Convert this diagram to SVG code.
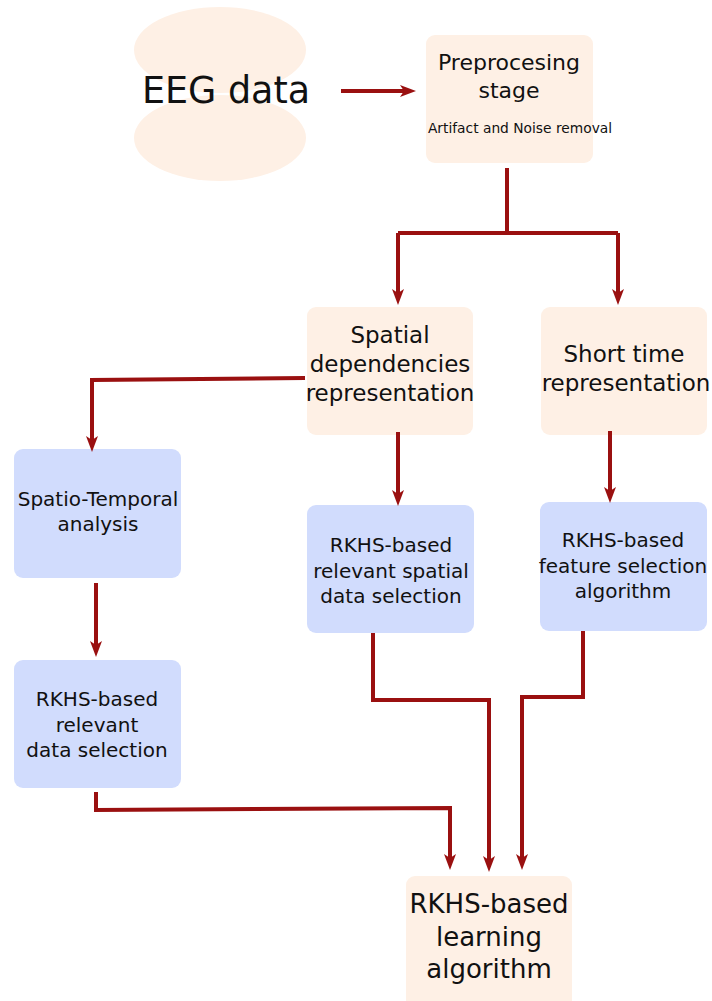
<svg xmlns="http://www.w3.org/2000/svg" width="712" height="1001" viewBox="0 0 712 1001">
  <style>
    text { font-family: "DejaVu Sans", "Liberation Sans", sans-serif; fill: #111; text-anchor: middle; }
    .peach { fill: #fef0e5; }
    .blue { fill: #d1dcfd; }
    .wire { fill: none; stroke: #9a1010; stroke-width: 4; }
    .arrow { marker-end: url(#head); }
    .t20 { font-size: 20px; }
    .t22 { font-size: 22px; }
    .t23 { font-size: 23px; }
    .t26 { font-size: 26px; }
  </style>
  <defs>
    <marker id="head" markerUnits="userSpaceOnUse" markerWidth="17" markerHeight="13" viewBox="0 0 17 13" refX="4" refY="6.5" orient="auto">
      <path d="M0,0.5 L16,6.5 L0,12.5 L4,6.5 Z" fill="#9a1010"/>
    </marker>
  </defs>

  <!-- EEG data source -->
  <g id="eeg-data">
    <ellipse class="peach" cx="220" cy="50" rx="86" ry="43"/>
    <ellipse class="peach" cx="220" cy="138" rx="86" ry="43"/>
    <text x="226" y="103" style="font-size:36.5px">EEG data</text>
  </g>

  <!-- Preprocessing -->
  <g id="preprocessing">
    <rect class="peach" x="426" y="35" width="167" height="128" rx="9"/>
    <text class="t22" x="509" y="70">Preprocesing</text>
    <text class="t22" x="509" y="98">stage</text>
    <text x="520" y="133" style="font-size:13.8px">Artifact and Noise removal</text>
  </g>

  <!-- Spatial dependencies -->
  <g id="spatial">
    <rect class="peach" x="307" y="307" width="166" height="128" rx="9"/>
    <text class="t23" x="390" y="343">Spatial</text>
    <text class="t23" x="390" y="372">dependencies</text>
    <text class="t23" x="390" y="401">representation</text>
  </g>

  <!-- Short time -->
  <g id="short-time">
    <rect class="peach" x="541" y="307" width="166" height="128" rx="9"/>
    <text class="t23" x="624" y="362">Short time</text>
    <text class="t23" x="626" y="391">representation</text>
  </g>

  <!-- Spatio-temporal analysis -->
  <g id="spatio-temporal">
    <rect class="blue" x="14" y="449" width="167" height="129" rx="9"/>
    <text class="t20" x="98" y="506">Spatio-Temporal</text>
    <text class="t20" x="98" y="531">analysis</text>
  </g>

  <!-- RKHS relevant spatial data selection -->
  <g id="rkhs-spatial">
    <rect class="blue" x="307" y="505" width="167" height="128" rx="9"/>
    <text class="t20" x="391" y="552">RKHS-based</text>
    <text class="t20" x="391" y="578">relevant spatial</text>
    <text class="t20" x="391" y="603">data selection</text>
  </g>

  <!-- RKHS feature selection -->
  <g id="rkhs-feature">
    <rect class="blue" x="540" y="502" width="167" height="129" rx="9"/>
    <text class="t20" x="623" y="547">RKHS-based</text>
    <text class="t20" x="623" y="573">feature selection</text>
    <text class="t20" x="623" y="598">algorithm</text>
  </g>

  <!-- RKHS relevant data selection -->
  <g id="rkhs-data">
    <rect class="blue" x="14" y="660" width="167" height="128" rx="9"/>
    <text class="t20" x="97" y="706">RKHS-based</text>
    <text class="t20" x="97" y="732">relevant</text>
    <text class="t20" x="97" y="757">data selection</text>
  </g>

  <!-- RKHS learning -->
  <g id="rkhs-learning">
    <rect class="peach" x="406" y="876" width="166" height="140" rx="9"/>
    <text class="t26" x="489" y="913">RKHS-based</text>
    <text class="t26" x="489" y="946">learning</text>
    <text class="t26" x="489" y="978">algorithm</text>
  </g>

  <!-- Connectors -->
  <g id="connectors">
    <path class="wire arrow" d="M341,91 H404"/>
    <path class="wire" d="M507,168 V233"/>
    <path class="wire" d="M398,233 H618"/>
    <path class="wire arrow" d="M398,233 V293"/>
    <path class="wire arrow" d="M618,233 V293"/>
    <path class="wire arrow" d="M305,378 L92,380 V440"/>
    <path class="wire arrow" d="M398,432 V494"/>
    <path class="wire arrow" d="M610,431 V491"/>
    <path class="wire arrow" d="M96,583 V645"/>
    <path class="wire arrow" d="M96,792 V810 L450,808 V858"/>
    <path class="wire arrow" d="M373,633 V700 H489 V860"/>
    <path class="wire arrow" d="M583,631 V697 H522 V858"/>
  </g>
</svg>
